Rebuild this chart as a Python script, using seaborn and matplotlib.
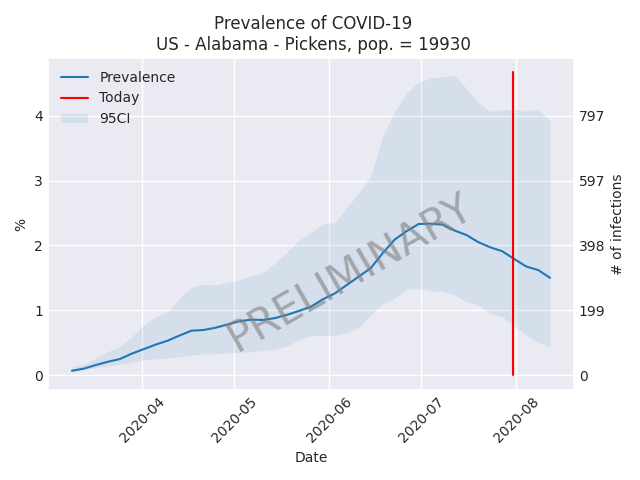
import numpy as np
import pandas as pd
import matplotlib
matplotlib.use("Agg")
import matplotlib.pyplot as plt
import matplotlib.dates as mdates
import seaborn as sns

start_date = "2020-03-09"
end_date = "2020-08-12"
today = "2020-07-31"
population = 19930
title = "Prevalence of COVID-19\nUS - Alabama - Pickens, pop. = 19930"

mean = [.067, .10, .155, .205, .247, .33, .40, .47, .53, .61, .685, .695, .73, .78, .83, .855, .85, .88, .93, .99,
        1.055, 1.17, 1.26, 1.39, 1.52, 1.65, 1.88, 2.09, 2.22, 2.33, 2.335, 2.32, 2.23, 2.16, 2.05, 1.97, 1.91,
        1.79, 1.675, 1.62, 1.50]
upper = [.13, .165, .26, .36, .44, .59, .77, .90, .98, 1.185, 1.355, 1.40, 1.39, 1.43, 1.47, 1.53, 1.58, 1.73, 1.90, 2.08,
         2.2, 2.335, 2.35, 2.58, 2.81, 3.07, 3.68, 4.07, 4.35, 4.52, 4.58, 4.60, 4.62, 4.42, 4.20, 4.07, 4.09,
         4.10, 4.07, 4.10, 3.93]
lower = [.05, .085, .115, .14, .165, .195, .235, .25, .265, .285, .31, .325, .33, .345, .35, .36, .38, .40, .45, .54,
         .61, .61, .61, .655, .735, .93, 1.10, 1.185, 1.325, 1.335, 1.30, 1.29, 1.24, 1.13, 1.08, .95, .90,
         .76, .62, .50, .44]
right_ticks = [0, 199, 398, 597, 797]
left_ticks = [0, 1, 2, 3, 4]

sns.set_theme(style="darkgrid", palette="tab10", rc={
    "xtick.bottom": False, "ytick.left": False, "xtick.major.size": 0, "ytick.major.size": 0,
    "xtick.major.pad": 3.5, "ytick.major.pad": 3.5,
    "axes.labelsize": 10, "xtick.labelsize": 10, "ytick.labelsize": 10,
    "axes.titlesize": 12, "legend.fontsize": 10, "font.family": "DejaVu Sans",
    "font.sans-serif": ["DejaVu Sans"], "grid.linewidth": 1.0, "lines.linewidth": 1.5,
})

dates = pd.date_range(start_date, end_date, periods=len(mean))
df = pd.DataFrame({"Date": dates, "mean": mean, "upper": upper, "lower": lower})

fig, ax = plt.subplots(figsize=(6.4, 4.8), dpi=100)
sns.lineplot(data=df, x="Date", y="mean", ax=ax, color="#1f77b4", label="Prevalence", errorbar=None)
ax.plot([pd.Timestamp(today)] * 2, [0, 4.67], color="red", label="Today")
ax.fill_between(df["Date"], df["lower"], df["upper"], color="#1f77b4", alpha=0.1, linewidth=0, label="95CI")
ax.set_ylim(-0.23, 4.89)
ax.set_yticks(left_ticks)
ax.xaxis.set_major_locator(mdates.MonthLocator())
ax.xaxis.set_major_formatter(mdates.DateFormatter("%Y-%m"))
ax.tick_params(axis="x", rotation=45)
ax.set_xlabel("Date")
ax.set_ylabel("%")
ax.set_title(title, x=0.504)
ax.legend(loc="upper left", frameon=False)

ax2 = ax.twinx()
ax2.set_ylim(*[v * population / 100 for v in ax.get_ylim()])
ax2.set_yticks(right_ticks)
ax2.grid(False)
ax2.set_ylabel("# of infections")
ax2.tick_params(right=False)
for s in ax2.spines.values():
    s.set_visible(False)

ax.text(0.575, 0.354, "PRELIMINARY", transform=ax.transAxes, fontsize=30, color="gray", alpha=0.6,
        ha="center", va="center", rotation=30)

fig.subplots_adjust(left=48/640, right=574/640, top=1-58/480, bottom=1-390/480)
fig.savefig("out.png", dpi=100)
